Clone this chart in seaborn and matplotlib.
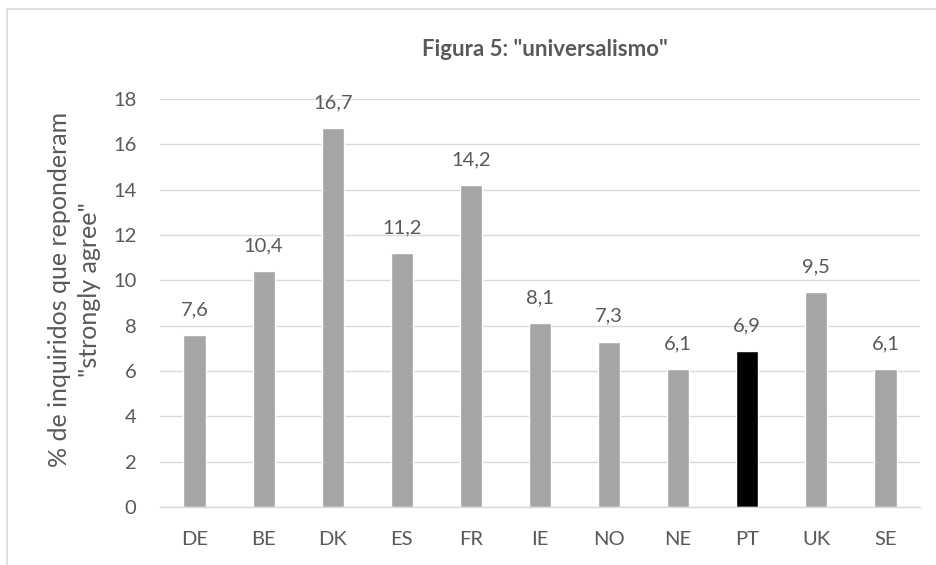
import matplotlib
matplotlib.use("Agg")
import matplotlib.pyplot as plt
import seaborn as sns
import pandas as pd
from matplotlib.patches import Rectangle

countries = ["DE", "BE", "DK", "ES", "FR", "IE", "NO", "NE", "PT", "UK", "SE"]
values = [7.6, 10.4, 16.7, 11.2, 14.2, 8.1, 7.3, 6.1, 6.9, 9.5, 6.1]
labels = ["7,6", "10,4", "16,7", "11,2", "14,2", "8,1", "7,3", "6,1", "6,9", "9,5", "6,1"]
highlight = "PT"
yticks = [0, 2, 4, 6, 8, 10, 12, 14, 16, 18]
title = 'Figura 5: "universalismo"'
ylabel = '% de inquiridos que reponderam\n"strongly agree"'

sns.set_theme(style="white")
plt.rcParams["font.family"] = ["Lato", "DejaVu Sans"]
txt = "#595959"

df = pd.DataFrame({"country": countries, "value": values})
palette = {c: ("#000000" if c == highlight else "#A5A5A5") for c in countries}

fig = plt.figure(figsize=(9.36, 5.65), dpi=100)
ax = fig.add_axes([160/936, 1-507/565, 760/936, (507-99)/565])
sns.barplot(data=df, x="country", y="value", hue="country", palette=palette,
            legend=False, width=0.32, ax=ax, saturation=1)

ax.set_ylim(0, 18)
ax.set_yticks(yticks)
ax.set_yticklabels([str(t) for t in yticks])
ax.set_xlim(-0.5, len(countries) - 0.5)
ax.yaxis.grid(True, color="#D9D9D9", linewidth=1)
ax.set_axisbelow(True)
for s in ["top", "right", "left"]:
    ax.spines[s].set_visible(False)
ax.spines["bottom"].set_color("#D9D9D9")
ax.spines["bottom"].set_linewidth(1)
ax.tick_params(axis="both", length=0, labelsize=14.5, colors=txt)
ax.tick_params(axis="y", pad=17)
ax.tick_params(axis="x", pad=17)
ax.set_xlabel("")
ax.set_ylabel(ylabel, fontsize=18, color=txt, linespacing=1.35)
ax.yaxis.set_label_coords(-(160-101)/760, 0.534)

for p, lab in zip(ax.patches, labels):
    ax.annotate(lab, (p.get_x() + p.get_width()/2, p.get_height()),
                xytext=(0, 12), textcoords="offset points",
                ha="center", va="bottom", fontsize=14.5, color=txt)

fig.text(545/936, 1-50/565, title, ha="center", va="center",
         fontsize=16, fontweight="bold", color=txt)

fig.patches.append(Rectangle((7/936, -0.1), 1.2, 1.1 - 9/565,
                             transform=fig.transFigure, fill=False,
                             edgecolor="#D9D9D9", linewidth=1.2))

fig.savefig("out.png", dpi=100)
